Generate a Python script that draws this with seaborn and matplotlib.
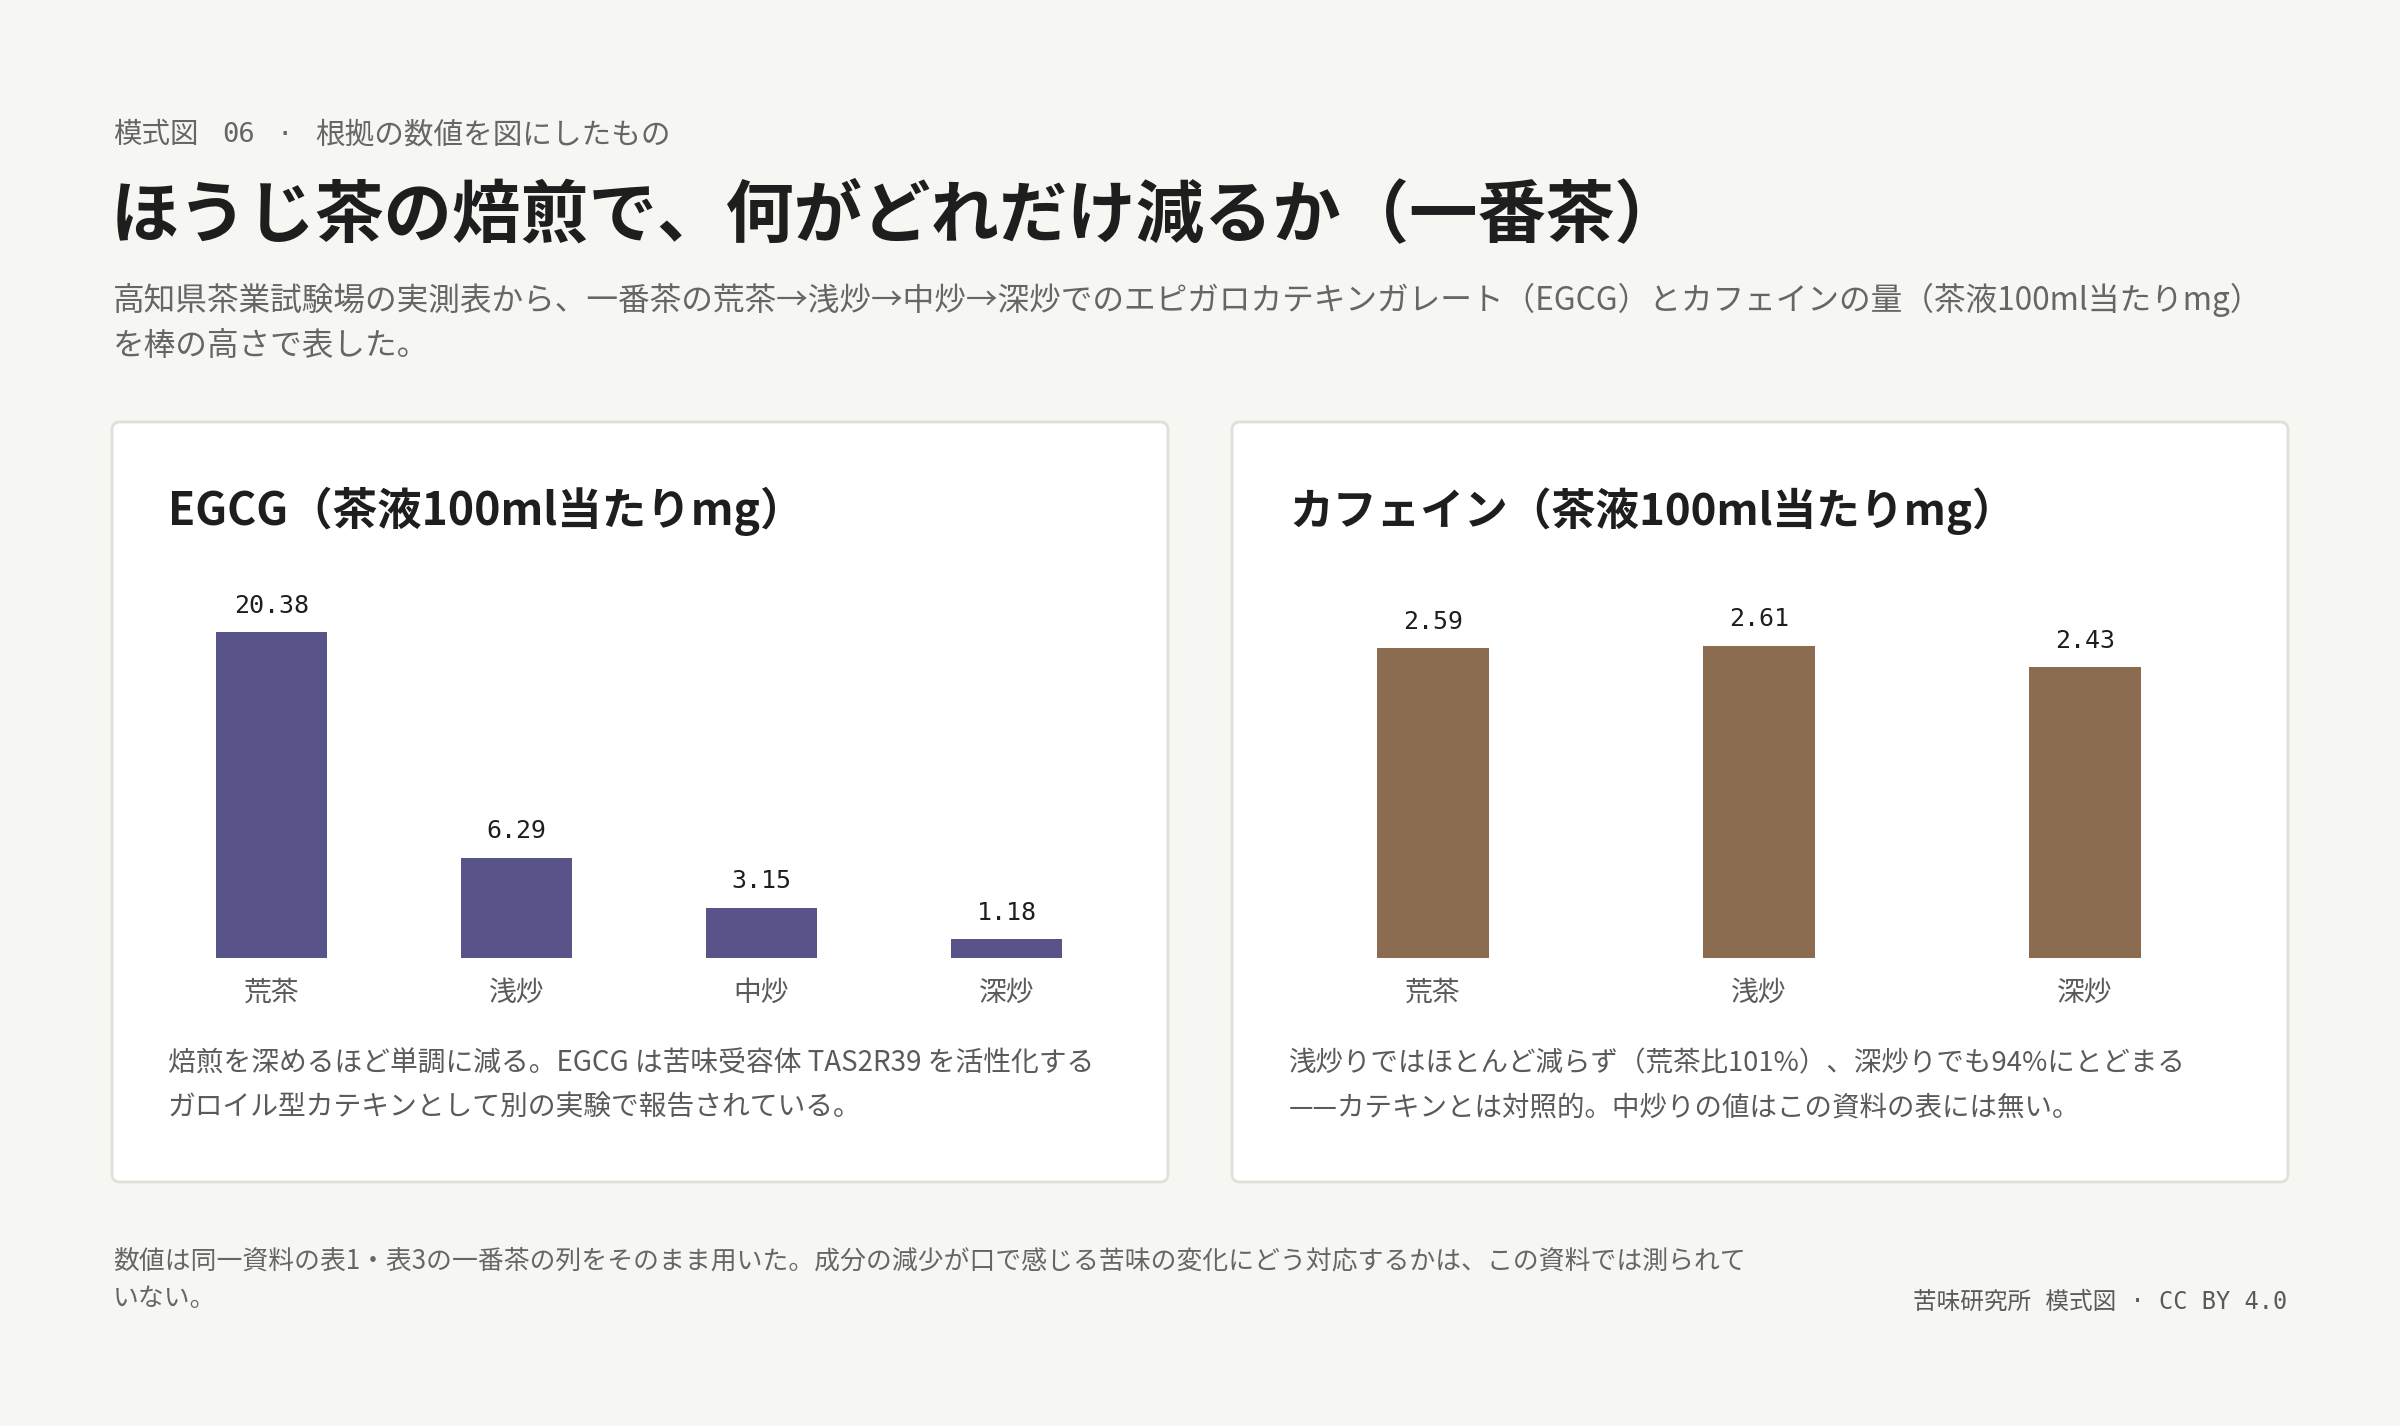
import matplotlib
matplotlib.use("Agg")
import matplotlib.pyplot as plt
from matplotlib.patches import FancyBboxPatch
import seaborn as sns
import pandas as pd

# ---------------- data ----------------
egcg_stages = ["荒茶", "浅炒", "中炒", "深炒"]
egcg_values = [20.38, 6.29, 3.15, 1.18]
caf_stages = ["荒茶", "浅炒", "深炒"]
caf_values = [2.59, 2.61, 2.43]

kicker_parts = ["模式図", "06", "·", "根拠の数値を図にしたもの"]
title = "ほうじ茶の焙煎で、何がどれだけ減るか（一番茶）"
subtitle_lines = [
    "高知県茶業試験場の実測表から、一番茶の荒茶→浅炒→中炒→深炒でのエピガロカテキンガレート（EGCG）とカフェインの量（茶液100ml当たりmg）",
    "を棒の高さで表した。",
]
egcg_title = "EGCG（茶液100ml当たりmg）"
caf_title = "カフェイン（茶液100ml当たりmg）"
egcg_note = [
    "焙煎を深めるほど単調に減る。EGCG は苦味受容体 TAS2R39 を活性化する",
    "ガロイル型カテキンとして別の実験で報告されている。",
]
caf_note = [
    "浅炒りではほとんど減らず（荒茶比101%）、深炒りでも94%にとどまる",
    "——カテキンとは対照的。中炒りの値はこの資料の表には無い。",
]
footer_lines = [
    "数値は同一資料の表1・表3の一番茶の列をそのまま用いた。成分の減少が口で感じる苦味の変化にどう対応するかは、この資料では測られて",
    "いない。",
]
credit = "苦味研究所 模式図 · CC BY 4.0"

# ---------------- style ----------------
BG = "#f6f6f2"
PANEL_EDGE = "#e2dfd8"
PURPLE = "#58548a"
BROWN = "#8b6c51"
INK = "#1e1e1e"
GREY = "#666666"
GREY2 = "#5a5a5a"

sns.set_style("white")
plt.rcParams["font.family"] = ["Noto Sans CJK JP", "DejaVu Sans"]
plt.rcParams["axes.unicode_minus"] = False

W, H = 2400, 1426
fig = plt.figure(figsize=(W / 100, H / 100), dpi=100, facecolor=BG)


def fx(px):
    return px / W


def fy(py):
    return 1 - py / H


MONO = ["DejaVu Sans Mono", "Noto Sans CJK JP"]
CJK = ["Noto Sans CJK JP", "DejaVu Sans"]

# header kicker (pieces positioned like the original letter-spaced line)
kx = [113, 222, 285, 315]
kha = ["left", "left", "center", "left"]
ksize = [20.5, 19.5, 19.5, 21.3]
for part, x, ha, fs in zip(kicker_parts, kx, kha, ksize):
    fig.text(fx(x), fy(135), part, family=MONO, fontsize=fs, color=GREY, va="center", ha=ha)

fig.text(fx(111), fy(217), title, family=CJK, fontsize=49.2, fontweight="bold", color=INK, va="center", ha="left")
for i, line in enumerate(subtitle_lines):
    fig.text(fx(113), fy(300 + 46 * i), line, family=CJK, fontsize=22.8, color=GREY, va="center", ha="left")

# panels (in inches so corners are round)
for x0 in (112, 1232):
    box = FancyBboxPatch(
        (x0 / 100, (H - 1182) / 100), 1056 / 100, 760 / 100,
        boxstyle="round,pad=0,rounding_size=0.08",
        transform=fig.dpi_scale_trans, facecolor="white",
        edgecolor=PANEL_EDGE, linewidth=2.0, zorder=-1,
    )
    fig.add_artist(box)

# panel titles
fig.text(fx(168), fy(511), egcg_title, family=CJK, fontsize=32, fontweight="bold", color=INK, va="center", ha="left")
fig.text(fx(1289), fy(511), caf_title, family=CJK, fontsize=31.5, fontweight="bold", color=INK, va="center", ha="left")

# axes
ax_bottom = fy(958)
ax_h = (958 - 582) / H
ax1 = fig.add_axes([fx(149), ax_bottom, (1129 - 149) / W, ax_h])
ax2 = fig.add_axes([fx(1270), ax_bottom, (2248 - 1270) / W, ax_h])

df1 = pd.DataFrame({"stage": egcg_stages, "value": egcg_values})
df2 = pd.DataFrame({"stage": caf_stages, "value": caf_values})

sns.barplot(data=df1, x="stage", y="value", color=PURPLE, saturation=1, width=0.456, ax=ax1, errorbar=None)
sns.barplot(data=df2, x="stage", y="value", color=BROWN, saturation=1, width=0.343, ax=ax2, errorbar=None)

for ax, ymax in ((ax1, 23.54), (ax2, 3.145)):
    ax.set_ylim(0, ymax)
    ax.set_facecolor("none")
    for s in ax.spines.values():
        s.set_visible(False)
    ax.set_yticks([])
    ax.set_xlabel("")
    ax.set_ylabel("")
    ax.tick_params(axis="x", length=0, pad=14, labelsize=20, labelcolor=GREY2)
    for lab in ax.get_xticklabels():
        lab.set_family(CJK)
    for p in ax.patches:
        p.set_edgecolor("none")
    ax.bar_label(ax.containers[0], fmt="%.2f", padding=10.5, fontsize=18,
                 family="DejaVu Sans Mono", color=INK)

# notes
for i, line in enumerate(egcg_note):
    fig.text(fx(168), fy(1064 + 44 * i), line, family=CJK, fontsize=20, color=GREY2, va="center", ha="left")
for i, line in enumerate(caf_note):
    fig.text(fx(1289), fy(1064 + 44 * i), line, family=CJK, fontsize=19.8, color=GREY2, va="center", ha="left")

# footer
for i, line in enumerate(footer_lines):
    fig.text(fx(113), fy(1261 + 38 * i), line, family=CJK, fontsize=18.6, color=GREY, va="center", ha="left")
fig.text(fx(2287), fy(1302), credit, family=MONO, fontsize=17, color=GREY2, va="center", ha="right")

fig.savefig("out.png", dpi=100, facecolor=BG)
